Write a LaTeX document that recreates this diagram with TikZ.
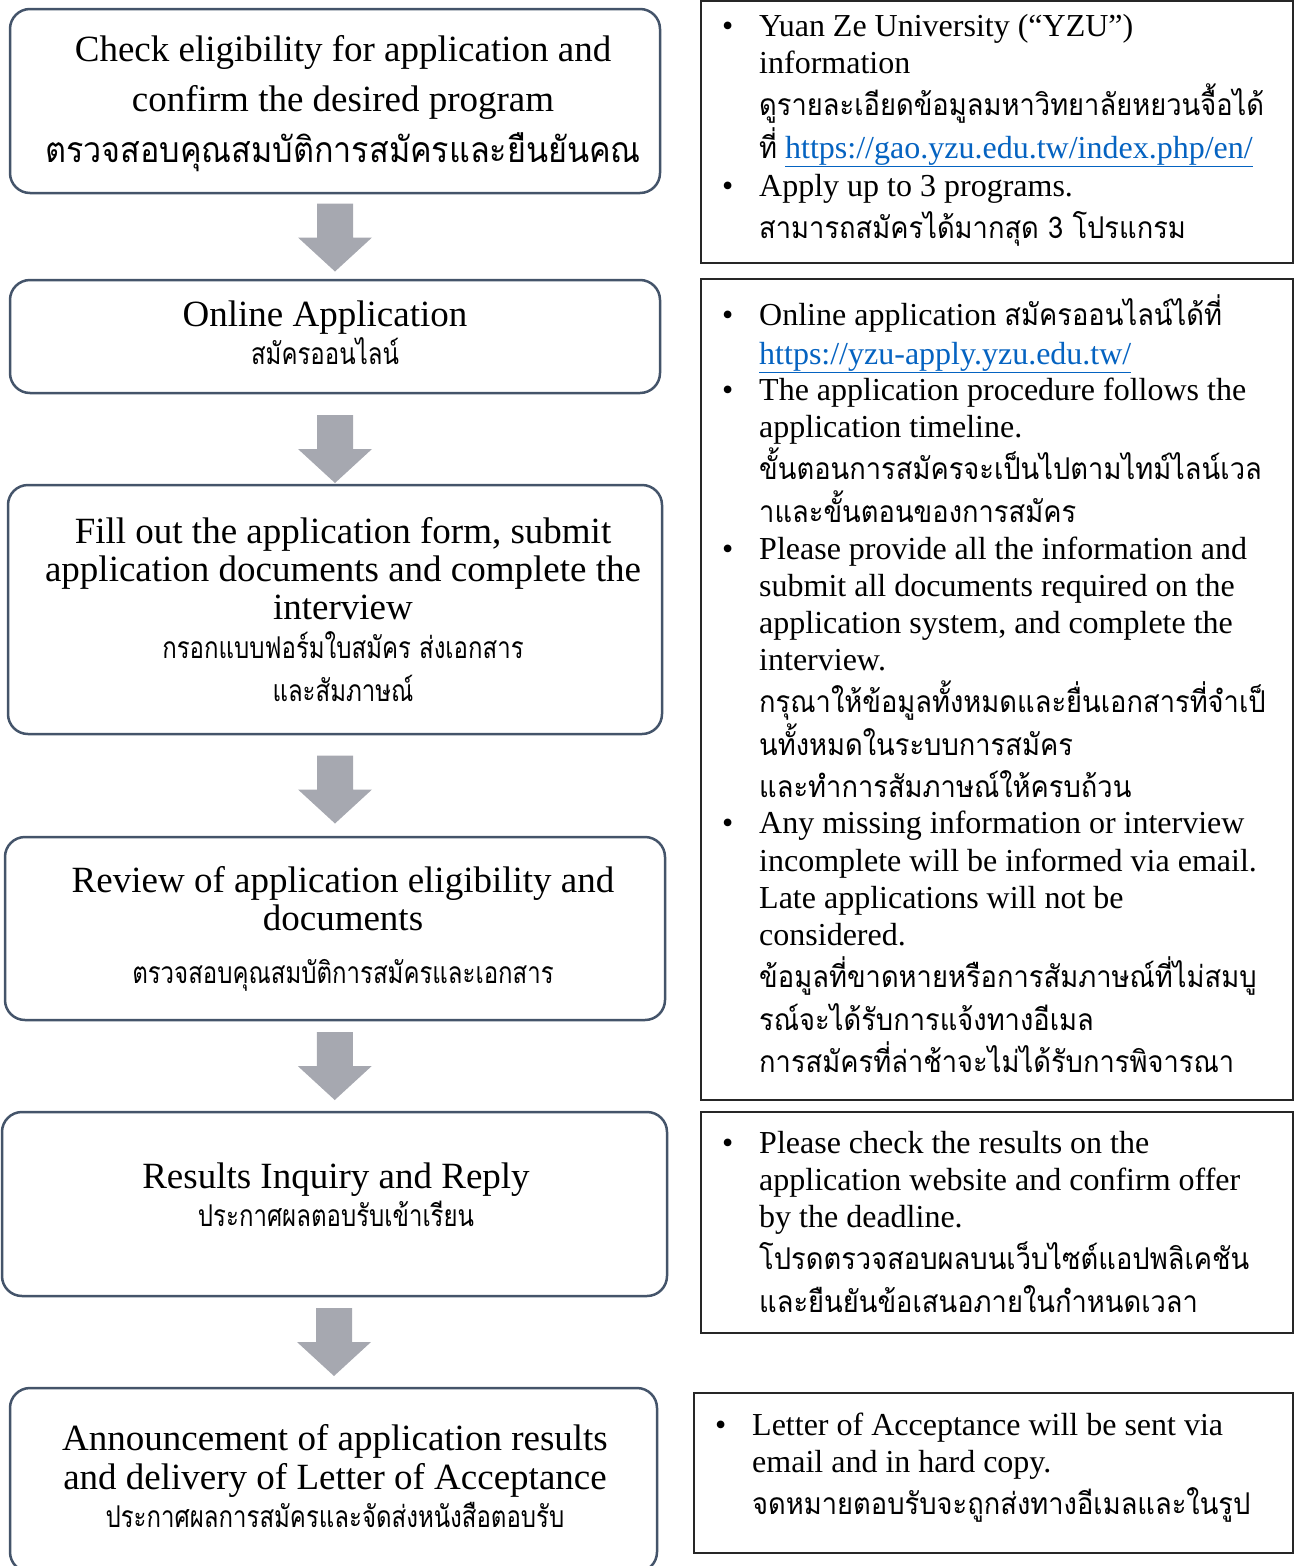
\documentclass[tikz,border=0pt]{standalone}
\usepackage{fontspec}
\setmainfont{Liberation Serif}
\newfontfamily\thai[Script=Thai,FakeStretch=0.91]{Loma}
\newfontfamily\thaithin[Script=Thai,FakeStretch=0.8]{Loma}
\usetikzlibrary{calc}

\definecolor{boxline}{HTML}{44546A}
\definecolor{arrowgray}{HTML}{A6A8B0}
\definecolor{linkblue}{HTML}{0563C1}

\tikzset{
  stepbox/.style={draw=boxline, line width=2.5pt, rounded corners=20pt, inner sep=0pt},
  notebox/.style={draw=black!85, line width=2pt, inner sep=0pt},
  flowarrow/.style={fill=arrowgray},
  big/.style={font=\fontsize{37}{40}\selectfont, inner sep=0pt, anchor=base},
  bigthai/.style={font=\fontsize{35.5}{40}\selectfont\thai, inner sep=0pt, anchor=base},
  smallthai/.style={font=\fontsize{30}{32}\selectfont\thaithin, inner sep=0pt, anchor=base},
  note/.style={font=\fontsize{32}{36}\selectfont, inner sep=0pt, anchor=base west},
  notethai/.style={font=\fontsize{30}{34}\selectfont\thai, inner sep=0pt, anchor=base west},
}

\begin{document}
\begin{tikzpicture}[x=1pt, y=-1pt]
\useasboundingbox (0,0) rectangle (1295,1566);

% Steps on the left
\node[stepbox, minimum width=650, minimum height=184] (s1) at (335,101) {};
\node[stepbox, minimum width=650, minimum height=113] (s2) at (335,336.5) {};
\node[stepbox, minimum width=654, minimum height=249] (s3) at (335,609.5) {};
\node[stepbox, minimum width=660, minimum height=183] (s4) at (335,928.5) {};
\node[stepbox, minimum width=665, minimum height=184] (s5) at (334.5,1204) {};
\node[stepbox, minimum width=647, minimum height=184] (s6) at (333.5,1480) {};

\node[big] (s1a) at (343,61) {Check eligibility for application and};
\node[big] (s1b) at (343,111) {confirm the desired program};
\node[bigthai] (s1c) at (343,162) {ตรวจสอบคุณสมบัติการสมัครและยืนยันคณ};

\node[big] (s2a) at (325,326) {Online Application};
\node[smallthai] (s2b) at (325,364) {สมัครออนไลน์};

\node[big] (s3a) at (343,543) {Fill out the application form, submit};
\node[big] (s3b) at (343,581) {application documents and complete the};
\node[big] (s3c) at (343,619) {interview};
\node[smallthai] (s3d) at (343,658) {กรอกแบบฟอร์มใบสมัคร ส่งเอกสาร};
\node[smallthai] (s3e) at (343,701) {และสัมภาษณ์};

\node[big] (s4a) at (343,892) {Review of application eligibility and};
\node[big] (s4b) at (343,930) {documents};
\node[smallthai] (s4c) at (343,983) {ตรวจสอบคุณสมบัติการสมัครและเอกสาร};

\node[big] (s5a) at (336,1188) {Results Inquiry and Reply};
\node[smallthai] (s5b) at (336,1226) {ประกาศผลตอบรับเข้าเรียน};

\node[big] (s6a) at (335,1450) {Announcement of application results};
\node[big] (s6b) at (335,1489) {and delivery of Letter of Acceptance};
\node[smallthai] (s6c) at (335,1527) {ประกาศผลการสมัครและจัดส่งหนังสือตอบรับ};

% Block arrows between the steps
\coordinate (m1) at ($(s1.south)!0.5!(s2.north)+(0,1)$);
\coordinate (m2) at ($(s2.south)!0.5!(s3.north)+(0,10)$);
\coordinate (m3) at ($(s3.south)!0.5!(s4.north)+(0,4)$);
\coordinate (m4) at ($(s4.south)!0.5!(s5.north)$);
\coordinate (m5) at ($(s5.south)!0.5!(s6.north)$);
\fill[flowarrow] ($(m1)+(-18,-34)$) -- ++(36,0) -- ++(0,34) -- ++(19,0) -- ++(-37,34) -- ++(-37,-34) -- ++(19,0) -- cycle;
\fill[flowarrow] ($(m2)+(-18,-34)$) -- ++(36,0) -- ++(0,34) -- ++(19,0) -- ++(-37,34) -- ++(-37,-34) -- ++(19,0) -- cycle;
\fill[flowarrow] ($(m3)+(-18,-34)$) -- ++(36,0) -- ++(0,34) -- ++(19,0) -- ++(-37,34) -- ++(-37,-34) -- ++(19,0) -- cycle;
\fill[flowarrow] ($(m4)+(-18,-34)$) -- ++(36,0) -- ++(0,34) -- ++(19,0) -- ++(-37,34) -- ++(-37,-34) -- ++(19,0) -- cycle;
\fill[flowarrow] ($(m5)+(-18,-34)$) -- ++(36,0) -- ++(0,34) -- ++(19,0) -- ++(-37,34) -- ++(-37,-34) -- ++(19,0) -- cycle;

% Notes on the right
\node[notebox, minimum width=592, minimum height=262] (r1) at (997,132) {};
\node[notebox, minimum width=592, minimum height=821] (r2) at (997,689.5) {};
\node[notebox, minimum width=592, minimum height=221] (r3) at (997,1222.5) {};
\node[notebox, minimum width=599, minimum height=160] (r4) at (993.5,1473) {};

\node[note] (r1p) at (722,36) {•};
\node[note] (r1a) at (759,36) {Yuan Ze University (“YZU”)};
\node[note] (r1b) at (759,73) {information};
\node[notethai] (r1c) at (759,115) {ดูรายละเอียดข้อมูลมหาวิทยาลัยหยวนจื้อได้};
\node[note] (r1d) at (759,158) {{\thai\fontsize{30}{34}\selectfont ที่} {\color{linkblue}\underline{https://gao.yzu.edu.tw/index.php/en/}}};
\node[note] (r1q) at (722,196) {•};
\node[note] (r1e) at (759,196) {Apply up to 3 programs.};
\node[notethai] (r1f) at (759,238) {สามารถสมัครได้มากสุด 3 โปรแกรม};

\node[note] (r2p) at (722,325) {•};
\node[note] (r2a) at (759,325) {Online application {\thai\fontsize{30}{34}\selectfont สมัครออนไลน์ได้ที่}};
\node[note] (r2b) at (759,364) {{\color{linkblue}\underline{https://yzu-apply.yzu.edu.tw/}}};
\node[note] (r2q) at (722,400) {•};
\node[note] (r2c) at (759,400) {The application procedure follows the};
\node[note] (r2d) at (759,437) {application timeline.};
\node[notethai] (r2e) at (759,479) {ขั้นตอนการสมัครจะเป็นไปตามไทม์ไลน์เวล};
\node[notethai] (r2f) at (759,522) {าและขั้นตอนของการสมัคร};
\node[note] (r2r) at (722,559) {•};
\node[note] (r2g) at (759,559) {Please provide all the information and};
\node[note] (r2h) at (759,596) {submit all documents required on the};
\node[note] (r2i) at (759,633) {application system, and complete the};
\node[note] (r2j) at (759,670) {interview.};
\node[notethai] (r2k) at (759,712) {กรุณาให้ข้อมูลทั้งหมดและยื่นเอกสารที่จำเป็};
\node[notethai] (r2l) at (759,755) {นทั้งหมดในระบบการสมัคร};
\node[notethai] (r2m) at (759,797) {และทำการสัมภาษณ์ให้ครบถ้วน};
\node[note] (r2s) at (722,833) {•};
\node[note] (r2n) at (759,833) {Any missing information or interview};
\node[note] (r2o) at (759,871) {incomplete will be informed via email.};
\node[note] (r2t) at (759,908) {Late applications will not be};
\node[note] (r2u) at (759,945) {considered.};
\node[notethai] (r2v) at (759,987) {ข้อมูลที่ขาดหายหรือการสัมภาษณ์ที่ไม่สมบู};
\node[notethai] (r2w) at (759,1030) {รณ์จะได้รับการแจ้งทางอีเมล};
\node[notethai] (r2x) at (759,1072) {การสมัครที่ล่าช้าจะไม่ได้รับการพิจารณา};

\node[note] (r3p) at (722,1153) {•};
\node[note] (r3a) at (759,1153) {Please check the results on the};
\node[note] (r3b) at (759,1190) {application website and confirm offer};
\node[note] (r3c) at (759,1227) {by the deadline.};
\node[notethai] (r3d) at (759,1269) {โปรดตรวจสอบผลบนเว็บไซต์แอปพลิเคชัน};
\node[notethai] (r3e) at (759,1312) {และยืนยันข้อเสนอภายในกำหนดเวลา};

\node[note] (r4p) at (715,1435) {•};
\node[note] (r4a) at (752,1435) {Letter of Acceptance will be sent via};
\node[note] (r4b) at (752,1472) {email and in hard copy.};
\node[notethai] (r4c) at (752,1514) {จดหมายตอบรับจะถูกส่งทางอีเมลและในรูป};
\end{tikzpicture}
\end{document}
